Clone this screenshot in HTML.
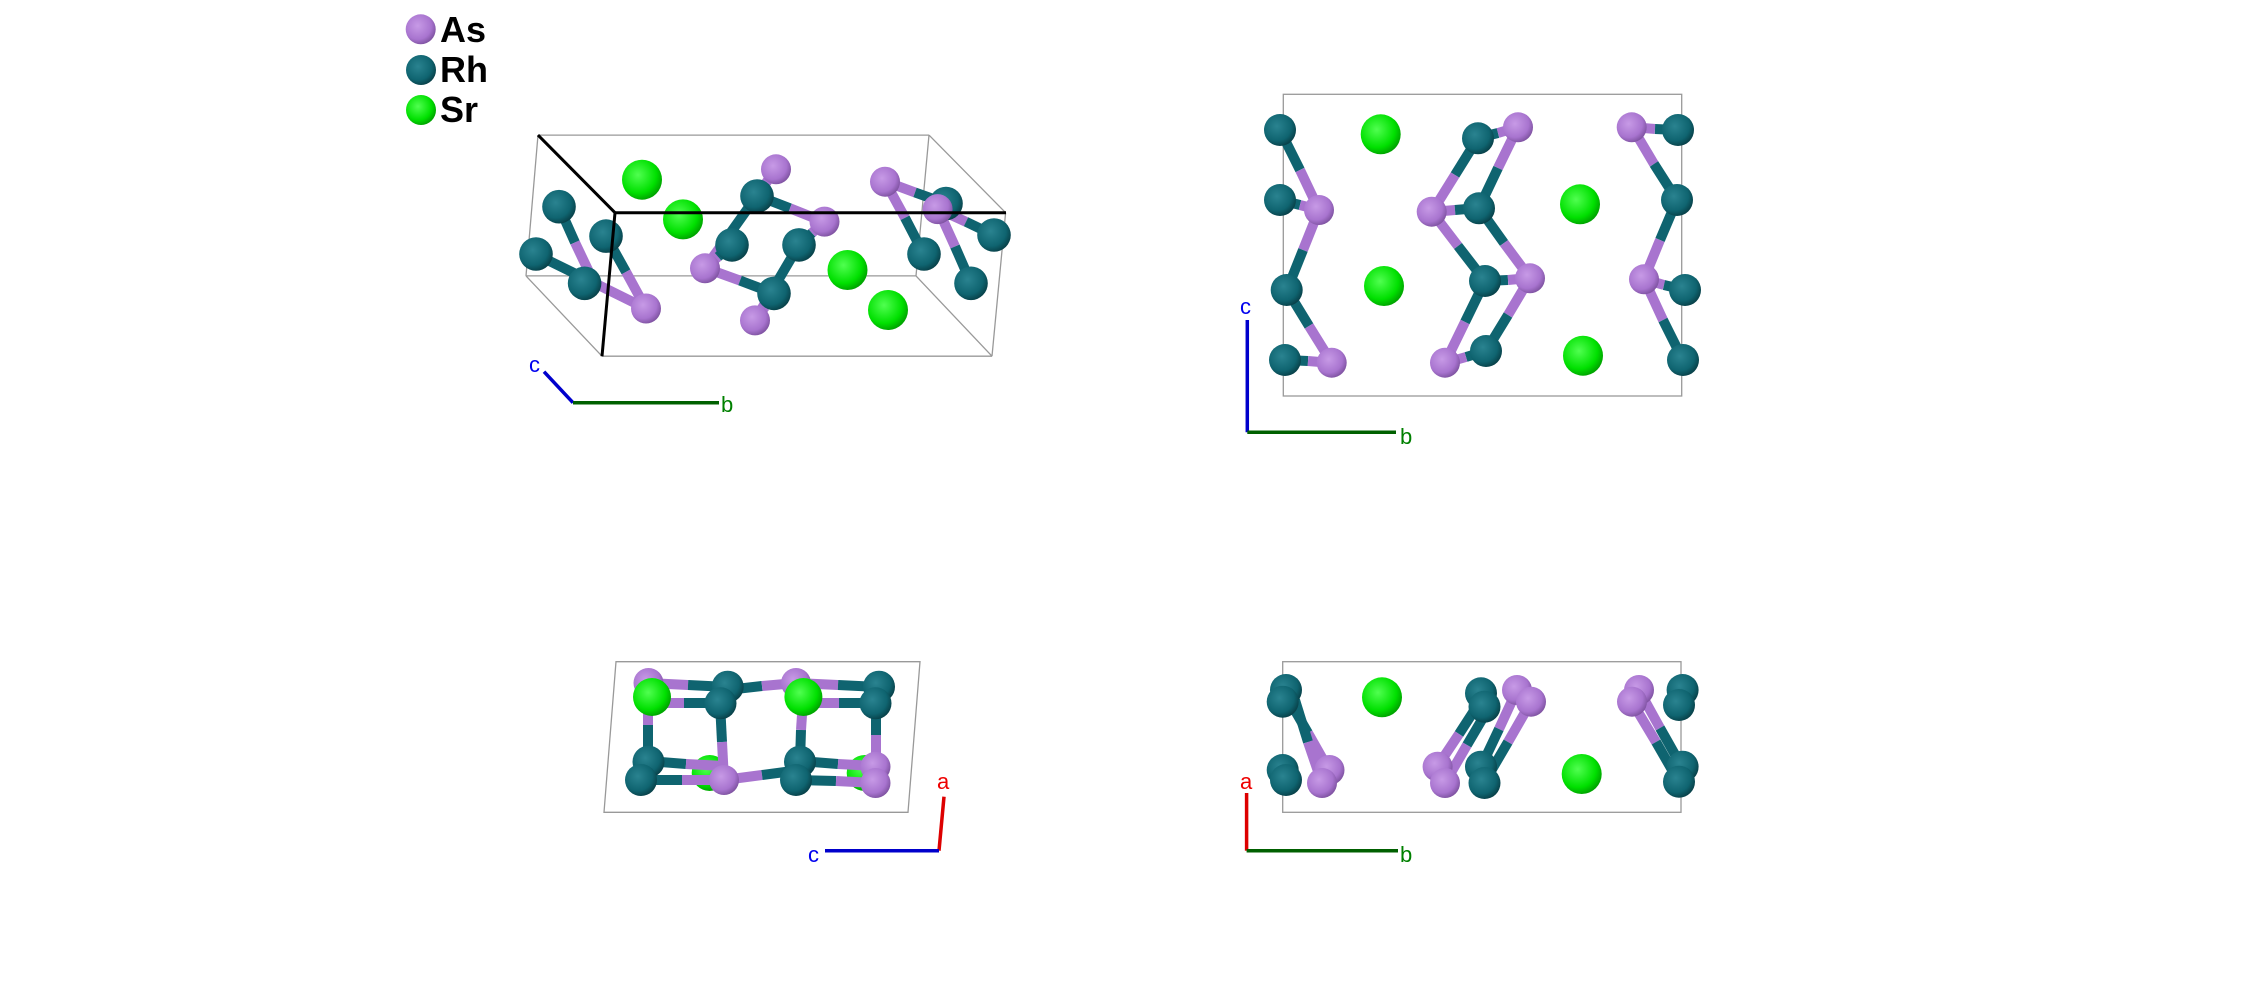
<!DOCTYPE html>
<html><head><meta charset="utf-8"><style>
html,body{margin:0;padding:0;background:#fff;width:2244px;height:982px;overflow:hidden}
svg{display:block}
.r{stroke:#0f6470;stroke-width:10}
.a{stroke:#a874cf;stroke-width:10}
.g{stroke:#999;stroke-width:1.3;fill:none}
.k{stroke:#000;stroke-width:3}
text{font-family:"Liberation Sans",sans-serif}
</style></head><body>
<svg width="2244" height="982" viewBox="0 0 2244 982" xmlns="http://www.w3.org/2000/svg">
<defs>
<radialGradient id="R" cx="0.4" cy="0.38" r="0.65"><stop offset="0" stop-color="#2a8390"/><stop offset="0.7" stop-color="#0f6470"/><stop offset="1" stop-color="#084048"/></radialGradient>
<radialGradient id="A" cx="0.4" cy="0.38" r="0.65"><stop offset="0" stop-color="#c79ae6"/><stop offset="0.7" stop-color="#a874cf"/><stop offset="1" stop-color="#7e52a0"/></radialGradient>
<radialGradient id="S" cx="0.4" cy="0.38" r="0.65"><stop offset="0" stop-color="#50ff50"/><stop offset="0.7" stop-color="#00e000"/><stop offset="1" stop-color="#00a000"/></radialGradient>
</defs>

<!-- legend -->
<circle cx="420.7" cy="29.3" r="15" fill="url(#A)"/><circle cx="421" cy="70" r="15" fill="url(#R)"/><circle cx="421" cy="110" r="15" fill="url(#S)"/>
<text x="440" y="42" font-size="36" font-weight="bold">As</text>
<text x="440" y="82" font-size="36" font-weight="bold">Rh</text>
<text x="440" y="122" font-size="36" font-weight="bold">Sr</text>

<!-- panel 1 box -->
<g class="g">
<line x1="538" y1="135.1" x2="929" y2="135.1"/><line x1="538" y1="135.1" x2="526" y2="275.9"/><line x1="526" y1="275.9" x2="916" y2="275.9"/><line x1="929" y1="135.1" x2="916" y2="275.9"/>
<line x1="929" y1="135.1" x2="1005.6" y2="212.7"/><line x1="526" y1="275.9" x2="602" y2="356.2"/><line x1="602" y1="356.2" x2="992" y2="356.2"/><line x1="916" y1="275.9" x2="992" y2="356.2"/><line x1="1005.6" y1="212.7" x2="992" y2="356.2"/>
</g>
<!-- panel 1 bonds -->
<line class="r" x1="559" y1="206.7" x2="575" y2="242.5"/><line class="a" x1="575" y1="242.5" x2="592" y2="278.3"/>
<line class="r" x1="536" y1="254.4" x2="591" y2="281.4"/><line class="a" x1="591" y1="281.4" x2="646" y2="308.5"/>
<line class="r" x1="606" y1="236.1" x2="626" y2="271.9"/><line class="a" x1="626" y1="271.9" x2="646" y2="308.5"/>
<line class="r" x1="757" y1="195.6" x2="766" y2="182.9"/><line class="a" x1="766" y1="182.9" x2="776" y2="169.3"/>
<line class="r" x1="757" y1="195.6" x2="790" y2="208.3"/><line class="a" x1="790" y1="208.3" x2="824" y2="221.8"/>
<line class="r" x1="757" y1="195.6" x2="731" y2="232.1"/><line class="a" x1="731" y1="232.1" x2="705" y2="267.9"/>
<line class="a" x1="705" y1="267.9" x2="740" y2="280.6"/><line class="r" x1="740" y1="280.6" x2="774" y2="293.4"/>
<line class="r" x1="774" y1="293.4" x2="765" y2="306.9"/><line class="a" x1="765" y1="306.9" x2="755" y2="320.4"/>
<line class="r" x1="799" y1="244.9" x2="812" y2="232.9"/><line class="a" x1="812" y1="232.9" x2="824" y2="221.8"/>
<line class="r" x1="799" y1="244.9" x2="777" y2="282.2"/><line class="a" x1="777" y1="282.2" x2="755" y2="320.4"/>
<line class="r" x1="732" y1="244.9" x2="718" y2="256.8"/><line class="a" x1="718" y1="256.8" x2="705" y2="267.9"/>
<line class="a" x1="885" y1="181.3" x2="915" y2="192.4"/><line class="r" x1="915" y1="192.4" x2="946" y2="203.5"/>
<line class="a" x1="885" y1="181.3" x2="905" y2="217.8"/><line class="r" x1="905" y1="217.8" x2="924" y2="254.4"/>
<line class="a" x1="938" y1="209.1" x2="966" y2="221.8"/><line class="r" x1="966" y1="221.8" x2="994" y2="235.3"/>
<line class="a" x1="938" y1="209.1" x2="955" y2="246.5"/><line class="r" x1="955" y1="246.5" x2="971" y2="283"/>
<!-- panel 1 atoms -->
<circle cx="559" cy="206.7" r="16.8" fill="url(#R)"/><circle cx="536" cy="254" r="16.8" fill="url(#R)"/>
<circle cx="642" cy="179.7" r="20" fill="url(#S)"/><circle cx="683" cy="219.4" r="20" fill="url(#S)"/>
<circle cx="606" cy="236.1" r="16.8" fill="url(#R)"/><circle cx="584.6" cy="283.3" r="16.8" fill="url(#R)"/>
<circle cx="646" cy="308.5" r="15" fill="url(#A)"/>
<circle cx="776" cy="169.3" r="15" fill="url(#A)"/><circle cx="732" cy="244.9" r="16.8" fill="url(#R)"/><circle cx="799" cy="244.9" r="16.8" fill="url(#R)"/>
<circle cx="757" cy="196" r="16.8" fill="url(#R)"/><circle cx="824.5" cy="221.6" r="15" fill="url(#A)"/>
<circle cx="705" cy="268.3" r="15" fill="url(#A)"/><circle cx="774" cy="293.4" r="16.8" fill="url(#R)"/><circle cx="755" cy="320.4" r="15" fill="url(#A)"/>
<circle cx="847.5" cy="270" r="20" fill="url(#S)"/><circle cx="888" cy="310" r="20" fill="url(#S)"/>
<circle cx="946" cy="203.5" r="16.8" fill="url(#R)"/><circle cx="885" cy="181.7" r="15" fill="url(#A)"/><circle cx="924" cy="254" r="16.8" fill="url(#R)"/>
<circle cx="937.6" cy="209.1" r="15" fill="url(#A)"/><circle cx="994" cy="235" r="16.8" fill="url(#R)"/><circle cx="971" cy="283.3" r="16.8" fill="url(#R)"/>
<g class="k"><line x1="538" y1="135.1" x2="615" y2="212.7"/><line x1="615" y1="212.7" x2="1006" y2="212.7"/><line x1="615" y1="212.7" x2="602" y2="356.2"/></g>
<!-- panel 1 axes -->
<line x1="544" y1="371.7" x2="573" y2="402.7" stroke="#0000cc" stroke-width="3.5"/>
<line x1="573" y1="402.7" x2="719" y2="402.7" stroke="#006000" stroke-width="3.5"/>
<text x="529" y="372" font-size="22" fill="#0000ee">c</text>
<text x="721" y="412" font-size="22" fill="#008000">b</text>

<!-- panel 2 -->
<rect x="1283.3" y="94.3" width="398.4" height="301.7" class="g"/>
<line class="r" x1="1280" y1="130" x2="1300" y2="170"/><line class="a" x1="1300" y1="170" x2="1319" y2="210"/>
<line class="r" x1="1280" y1="200" x2="1300" y2="205"/><line class="a" x1="1300" y1="205" x2="1319" y2="210"/>
<line class="a" x1="1319" y1="210" x2="1303" y2="250"/><line class="r" x1="1303" y1="250" x2="1287" y2="290"/>
<line class="r" x1="1287" y1="290" x2="1309" y2="326"/><line class="a" x1="1309" y1="326" x2="1332" y2="363"/>
<line class="r" x1="1285" y1="360" x2="1308" y2="361"/><line class="a" x1="1308" y1="361" x2="1332" y2="363"/>
<line class="r" x1="1478" y1="138" x2="1498" y2="133"/><line class="a" x1="1498" y1="133" x2="1518" y2="127"/>
<line class="r" x1="1478" y1="138" x2="1455" y2="175"/><line class="a" x1="1455" y1="175" x2="1432" y2="212"/>
<line class="a" x1="1518" y1="127" x2="1498" y2="168"/><line class="r" x1="1498" y1="168" x2="1479" y2="208"/>
<line class="a" x1="1432" y1="212" x2="1455" y2="210"/><line class="r" x1="1455" y1="210" x2="1479" y2="208"/>
<line class="a" x1="1432" y1="212" x2="1458" y2="246"/><line class="r" x1="1458" y1="246" x2="1485" y2="281"/>
<line class="r" x1="1479" y1="208" x2="1504" y2="243"/><line class="a" x1="1504" y1="243" x2="1530" y2="278"/>
<line class="r" x1="1485" y1="281" x2="1508" y2="280"/><line class="a" x1="1508" y1="280" x2="1530" y2="278"/>
<line class="r" x1="1485" y1="281" x2="1465" y2="322"/><line class="a" x1="1465" y1="322" x2="1445" y2="363"/>
<line class="a" x1="1530" y1="278" x2="1508" y2="315"/><line class="r" x1="1508" y1="315" x2="1486" y2="351"/>
<line class="r" x1="1486" y1="351" x2="1466" y2="357"/><line class="a" x1="1466" y1="357" x2="1445" y2="363"/>
<line class="a" x1="1632" y1="127" x2="1655" y2="129"/><line class="r" x1="1655" y1="129" x2="1678" y2="130"/>
<line class="a" x1="1632" y1="127" x2="1654" y2="164"/><line class="r" x1="1654" y1="164" x2="1677" y2="200"/>
<line class="r" x1="1677" y1="200" x2="1660" y2="240"/><line class="a" x1="1660" y1="240" x2="1644" y2="279"/>
<line class="a" x1="1644" y1="279" x2="1664" y2="285"/><line class="r" x1="1664" y1="285" x2="1685" y2="290"/>
<line class="a" x1="1644" y1="279" x2="1663" y2="320"/><line class="r" x1="1663" y1="320" x2="1683" y2="360"/>
<g>
<circle cx="1280" cy="130" r="16" fill="url(#R)"/><circle cx="1280" cy="200" r="16" fill="url(#R)"/><circle cx="1286.7" cy="290" r="16" fill="url(#R)"/><circle cx="1285" cy="360" r="16" fill="url(#R)"/>
<circle cx="1319" cy="210" r="15" fill="url(#A)"/><circle cx="1331.7" cy="362.7" r="15" fill="url(#A)"/>
<circle cx="1380.7" cy="134.3" r="20" fill="url(#S)"/><circle cx="1384" cy="286" r="20" fill="url(#S)"/><circle cx="1580" cy="204.3" r="20" fill="url(#S)"/><circle cx="1583" cy="355.7" r="20" fill="url(#S)"/>
<circle cx="1478" cy="138.3" r="16" fill="url(#R)"/><circle cx="1518" cy="127.3" r="15" fill="url(#A)"/>
<circle cx="1431.7" cy="211.7" r="15" fill="url(#A)"/><circle cx="1479" cy="208.3" r="16" fill="url(#R)"/>
<circle cx="1485" cy="281" r="16" fill="url(#R)"/><circle cx="1530" cy="278.3" r="15" fill="url(#A)"/>
<circle cx="1445" cy="362.7" r="15" fill="url(#A)"/><circle cx="1486" cy="351" r="16" fill="url(#R)"/>
<circle cx="1631.7" cy="127.3" r="15" fill="url(#A)"/><circle cx="1678" cy="130" r="16" fill="url(#R)"/><circle cx="1677" cy="200" r="16" fill="url(#R)"/>
<circle cx="1644" cy="279.3" r="15" fill="url(#A)"/><circle cx="1685" cy="290" r="16" fill="url(#R)"/><circle cx="1683" cy="360" r="16" fill="url(#R)"/>
</g>
<line x1="1247.3" y1="320" x2="1247.3" y2="432.3" stroke="#0000cc" stroke-width="3.5"/>
<line x1="1247.3" y1="432.3" x2="1396" y2="432.3" stroke="#006000" stroke-width="3.5"/>
<text x="1240" y="314" font-size="22" fill="#0000ee">c</text>
<text x="1400" y="444" font-size="22" fill="#008000">b</text>

<!-- panel 3 -->
<polygon points="616,661.7 920,661.7 908,812.3 604,812.3" class="g"/>
<circle cx="709.7" cy="773" r="18" fill="url(#S)"/><circle cx="864.7" cy="773" r="18" fill="url(#S)"/>
<line class="a" x1="648" y1="683" x2="688" y2="685"/><line class="r" x1="688" y1="685" x2="728" y2="687"/>
<line class="a" x1="648" y1="703" x2="684" y2="703"/><line class="r" x1="684" y1="703" x2="720" y2="703"/>
<line class="a" x1="796" y1="683" x2="838" y2="685"/><line class="r" x1="838" y1="685" x2="879" y2="687"/>
<line class="a" x1="803" y1="703" x2="839" y2="703"/><line class="r" x1="839" y1="703" x2="875" y2="703"/>
<line class="a" x1="648" y1="690" x2="648" y2="725"/><line class="r" x1="648" y1="725" x2="648" y2="761"/>
<line class="r" x1="720" y1="703" x2="722" y2="742"/><line class="a" x1="722" y1="742" x2="724" y2="780"/>
<line class="a" x1="803" y1="700" x2="801" y2="730"/><line class="r" x1="801" y1="730" x2="800" y2="761"/>
<line class="r" x1="876" y1="703" x2="876" y2="735"/><line class="a" x1="876" y1="735" x2="876" y2="766"/>
<line class="r" x1="648" y1="761" x2="686" y2="764"/><line class="a" x1="686" y1="764" x2="724" y2="766"/>
<line class="r" x1="641" y1="780" x2="682" y2="780"/><line class="a" x1="682" y1="780" x2="724" y2="780"/>
<line class="r" x1="800" y1="761" x2="838" y2="764"/><line class="a" x1="838" y1="764" x2="875" y2="766"/>
<line class="r" x1="796" y1="780" x2="836" y2="781"/><line class="a" x1="836" y1="781" x2="875" y2="783"/>
<line class="r" x1="727" y1="690" x2="762" y2="686"/><line class="a" x1="762" y1="686" x2="796" y2="683"/>
<line class="a" x1="724" y1="780" x2="762" y2="775"/><line class="r" x1="762" y1="775" x2="800" y2="770"/>
<circle cx="648.5" cy="683" r="15" fill="url(#A)"/><circle cx="796" cy="683" r="15" fill="url(#A)"/>
<circle cx="727.7" cy="686.7" r="16" fill="url(#R)"/><circle cx="879" cy="686.7" r="16" fill="url(#R)"/>
<circle cx="720.5" cy="703.3" r="16" fill="url(#R)"/><circle cx="875.5" cy="703.3" r="16" fill="url(#R)"/>
<circle cx="652" cy="697" r="19" fill="url(#S)"/><circle cx="803.4" cy="697" r="19" fill="url(#S)"/>
<circle cx="648.5" cy="761.7" r="16" fill="url(#R)"/><circle cx="641" cy="780" r="16" fill="url(#R)"/>
<circle cx="800" cy="761.7" r="16" fill="url(#R)"/><circle cx="796" cy="780" r="16" fill="url(#R)"/>
<circle cx="724" cy="780" r="15" fill="url(#A)"/><circle cx="875.5" cy="766.7" r="15" fill="url(#A)"/><circle cx="875.5" cy="783" r="15" fill="url(#A)"/>
<line x1="939" y1="850.7" x2="944" y2="796.7" stroke="#dd0000" stroke-width="3.5"/>
<line x1="825" y1="850.7" x2="939" y2="850.7" stroke="#0000cc" stroke-width="3.5"/>
<text x="937" y="789" font-size="22" fill="#ee0000">a</text>
<text x="808" y="862" font-size="22" fill="#0000ee">c</text>

<!-- panel 4 -->
<rect x="1282.7" y="661.7" width="398.3" height="150.6" class="g"/>
<line class="r" x1="1286" y1="695" x2="1308" y2="733"/><line class="a" x1="1308" y1="733" x2="1329" y2="770"/>
<line class="r" x1="1295" y1="700" x2="1308" y2="742"/><line class="a" x1="1308" y1="742" x2="1322" y2="783"/>
<line class="r" x1="1481" y1="700" x2="1459" y2="734"/><line class="a" x1="1459" y1="734" x2="1437" y2="767"/>
<line class="r" x1="1490" y1="706" x2="1467" y2="745"/><line class="a" x1="1467" y1="745" x2="1445" y2="783"/>
<line class="a" x1="1517" y1="690" x2="1499" y2="729"/><line class="r" x1="1499" y1="729" x2="1481" y2="767"/>
<line class="a" x1="1531" y1="702" x2="1508" y2="742"/><line class="r" x1="1508" y1="742" x2="1484" y2="783"/>
<line class="a" x1="1639" y1="690" x2="1660" y2="728"/><line class="r" x1="1660" y1="728" x2="1682" y2="767"/>
<line class="a" x1="1632" y1="702" x2="1656" y2="742"/><line class="r" x1="1656" y1="742" x2="1679" y2="782"/>
<circle cx="1286" cy="690" r="16" fill="url(#R)"/><circle cx="1282.7" cy="701.7" r="16" fill="url(#R)"/>
<circle cx="1282.7" cy="770" r="16" fill="url(#R)"/><circle cx="1286" cy="780" r="16" fill="url(#R)"/>
<circle cx="1329.5" cy="770" r="15" fill="url(#A)"/><circle cx="1322" cy="783" r="15" fill="url(#A)"/>
<circle cx="1382" cy="697.3" r="20" fill="url(#S)"/><circle cx="1581.7" cy="774" r="20" fill="url(#S)"/>
<circle cx="1517" cy="690" r="15" fill="url(#A)"/><circle cx="1531" cy="701.7" r="15" fill="url(#A)"/>
<circle cx="1481" cy="693.3" r="16" fill="url(#R)"/><circle cx="1484.5" cy="706.7" r="16" fill="url(#R)"/>
<circle cx="1481" cy="766.7" r="16" fill="url(#R)"/><circle cx="1484.5" cy="783" r="16" fill="url(#R)"/>
<circle cx="1437.6" cy="766.7" r="15" fill="url(#A)"/><circle cx="1445" cy="783" r="15" fill="url(#A)"/>
<circle cx="1682.6" cy="690" r="16" fill="url(#R)"/><circle cx="1679" cy="705" r="16" fill="url(#R)"/>
<circle cx="1639" cy="690" r="15" fill="url(#A)"/><circle cx="1632" cy="701.7" r="15" fill="url(#A)"/>
<circle cx="1682.6" cy="766.7" r="16" fill="url(#R)"/><circle cx="1679" cy="781.7" r="16" fill="url(#R)"/>
<line x1="1246.6" y1="793" x2="1246.6" y2="850.7" stroke="#dd0000" stroke-width="3.5"/>
<line x1="1246.6" y1="850.7" x2="1398" y2="850.7" stroke="#006000" stroke-width="3.5"/>
<text x="1240" y="789" font-size="22" fill="#ee0000">a</text>
<text x="1400" y="862" font-size="22" fill="#008000">b</text>
</svg>
</body></html>
